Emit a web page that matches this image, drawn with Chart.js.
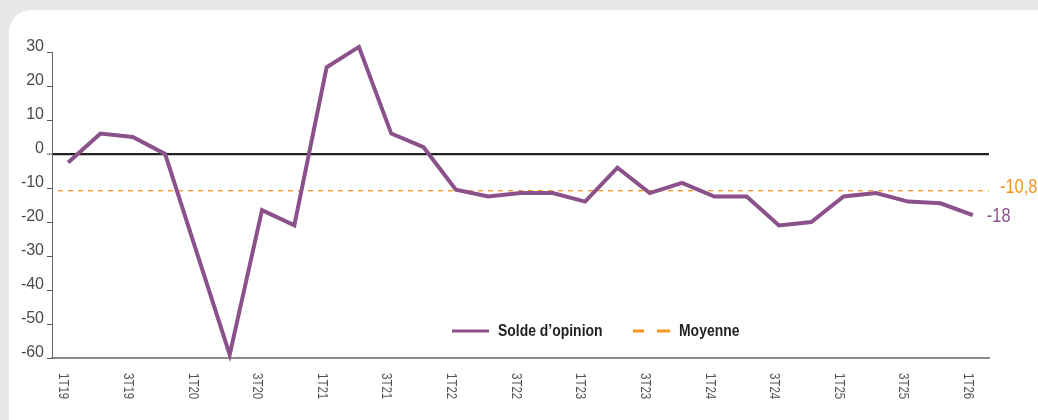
<!DOCTYPE html>
<html>
<head>
<meta charset="utf-8">
<script src="https://cdn.jsdelivr.net/npm/chart.js@4/dist/chart.umd.min.js"></script>
<style>
  html, body { margin: 0; padding: 0; }
  body { width: 1038px; height: 420px; background: #e6e7e9; position: relative; overflow: hidden; }
  #card { position: absolute; left: 9px; top: 10px; width: 1060px; height: 430px; background: #ffffff; border-radius: 22px; }
  #wrap { position: absolute; left: 0; top: 0; width: 1038px; height: 420px; }
</style>
</head>
<body>
<div id="card"></div>
<div id="wrap"><canvas id="c" width="1038" height="420"></canvas></div>
<script>
const categories = [
  '1T19','2T19','3T19','4T19',
  '1T20','2T20','3T20','4T20',
  '1T21','2T21','3T21','4T21',
  '1T22','2T22','3T22','4T22',
  '1T23','2T23','3T23','4T23',
  '1T24','2T24','3T24','4T24',
  '1T25','2T25','3T25','4T25',
  '1T26'
];
const soldeValues = [
  -2.5, 6, 5, 0,
  -29.5, -59, -16.5, -21,
  25.5, 31.5, 6, 2,
  -10.5, -12.5, -11.5, -11.5,
  -14, -4, -11.5, -8.5,
  -12.5, -12.5, -21, -20,
  -12.5, -11.5, -14, -14.5,
  -18
];
const meanValue = -10.8;
const meanLabel = '-10,8';
const lastLabel = '-18';
const xTickLabels = ['1T19','3T19','1T20','3T20','1T21','3T21','1T22','3T22','1T23','3T23','1T24','3T24','1T25','3T25','1T26'];
const yTickValues = [30, 20, 10, 0, -10, -20, -30, -40, -50, -60];
const seriesNames = ['Solde d\u2019opinion', 'Moyenne'];

const PURPLE = '#8b518b';
const ORANGE = '#f7941d';
const REG = '"Liberation Sans", Arial, sans-serif';
const NARROW_SCALE = 0.82;

function narrowText(ctx, text, x, y) {
  ctx.save();
  ctx.translate(x, y);
  ctx.scale(NARROW_SCALE, 1);
  ctx.fillText(text, 0, 0);
  ctx.restore();
}

const overlay = {
  id: 'overlay',
  beforeDatasetsDraw(chart) {
    const {ctx, chartArea, scales} = chart;
    const y = scales.y.getPixelForValue(meanValue);
    ctx.save();
    ctx.strokeStyle = ORANGE;
    ctx.lineWidth = 1.3;
    ctx.setLineDash([5, 5]);
    ctx.beginPath();
    ctx.moveTo(chartArea.left + 6, y);
    ctx.lineTo(chartArea.right, y);
    ctx.stroke();
    ctx.restore();
  },
  afterDraw(chart) {
    const {ctx, chartArea, scales} = chart;
    const xs = scales.x, ys = scales.y;
    ctx.save();
    // x tick labels, rotated clockwise
    ctx.font = '14px ' + REG;
    ctx.fillStyle = '#555555';
    ctx.textAlign = 'left';
    ctx.textBaseline = 'middle';
    categories.forEach((c, i) => {
      if (!xTickLabels.includes(c)) return;
      const x = xs.getPixelForValue(i);
      ctx.save();
      ctx.translate(x - 5, xs.top + 15);
      ctx.rotate(Math.PI / 2);
      ctx.scale(NARROW_SCALE, 1);
      ctx.fillText(c, 0, 0);
      ctx.restore();
    });
    // end labels
    ctx.font = '20px ' + REG;
    ctx.textBaseline = 'middle';
    ctx.fillStyle = ORANGE;
    narrowText(ctx, meanLabel, chartArea.right + 11, ys.getPixelForValue(meanValue) - 3);
    ctx.fillStyle = PURPLE;
    const lastIdx = soldeValues.length - 1;
    narrowText(ctx, lastLabel, xs.getPixelForValue(lastIdx) + 14, ys.getPixelForValue(soldeValues[lastIdx]) + 1);
    // legend
    const ly = 331;
    ctx.strokeStyle = PURPLE;
    ctx.lineWidth = 3;
    ctx.setLineDash([]);
    ctx.beginPath(); ctx.moveTo(452, ly); ctx.lineTo(489, ly); ctx.stroke();
    ctx.strokeStyle = ORANGE;
    ctx.beginPath(); ctx.moveTo(633, ly); ctx.lineTo(644, ly); ctx.moveTo(657, ly); ctx.lineTo(670, ly); ctx.stroke();
    ctx.font = 'bold 17px ' + REG;
    ctx.fillStyle = '#231f20';
    ctx.textAlign = 'left';
    narrowText(ctx, seriesNames[0], 498, ly);
    narrowText(ctx, seriesNames[1], 679, ly);
    ctx.restore();
  }
};

new Chart(document.getElementById('c'), {
  type: 'line',
  data: {
    labels: categories,
    datasets: [{
      label: seriesNames[0],
      data: soldeValues,
      borderColor: PURPLE,
      borderWidth: 4,
      pointRadius: 0,
      tension: 0,
      borderJoinStyle: 'miter',
      fill: false,
      clip: false
    }]
  },
  options: {
    responsive: false,
    animation: false,
    layout: { padding: { left: 0, right: 49, top: 52, bottom: 0 } },
    plugins: { legend: { display: false }, tooltip: { enabled: false } },
    scales: {
      x: {
        type: 'category',
        offset: true,
        ticks: { display: false },
        grid: { display: false },
        border: { display: true, color: '#8c8c8c', width: 2 },
        afterFit(scale) { scale.height = 62; }
      },
      y: {
        min: -60,
        max: 30,
        afterBuildTicks(scale) { scale.ticks = yTickValues.map(v => ({ value: v })); },
        ticks: {
          font: { family: REG, size: 16 },
          color: '#4a4a4a',
          padding: 3,
          labelOffset: -5,
          callback: (v) => String(v)
        },
        grid: {
          drawOnChartArea: true,
          color: (c) => (c.tick && c.tick.value === 0) ? '#222222' : 'rgba(0,0,0,0)',
          lineWidth: (c) => (c.tick && c.tick.value === 0) ? 2.2 : 1,
          tickColor: '#555555',
          tickWidth: 1,
          tickLength: 5
        },
        border: { display: true, color: '#666666', width: 1 },
        afterFit(scale) { scale.width = 52; }
      }
    }
  },
  plugins: [overlay]
});
</script>
</body>
</html>
